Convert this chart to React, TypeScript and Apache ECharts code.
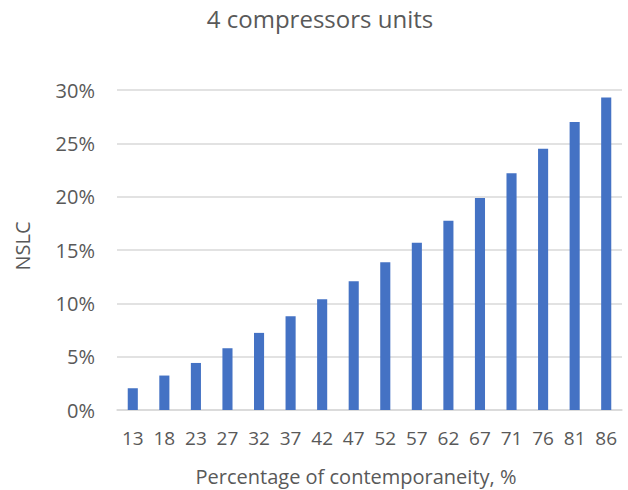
import React, { useEffect, useRef } from "react";
import * as echarts from "echarts";

const categories = ["13", "18", "23", "27", "32", "37", "42", "47", "52", "57", "62", "67", "71", "76", "81", "86"];
const nslcValues = [2.04, 3.23, 4.41, 5.79, 7.23, 8.8, 10.39, 12.06, 13.84, 15.68, 17.75, 19.88, 22.2, 24.5, 26.99, 29.3];
const yTicks = { min: 0, max: 30, interval: 5 };
const titleText = "4 compressors units";
const xName = "Percentage of contemporaneity, %";
const yName = "NSLC";

const FONT = "Open Sans";
const TEXT = "#595959";

export default function App() {
  const ref = useRef<HTMLDivElement>(null);
  useEffect(() => {
    if (!ref.current) return;
    const chart = echarts.init(ref.current, undefined, { renderer: "svg" });
    chart.setOption({
      animation: false,
      backgroundColor: "#ffffff",
      textStyle: { fontFamily: FONT },
      grid: { left: 117, right: 6, top: 90, bottom: 80, containLabel: false },
      graphic: [
        {
          type: "text",
          x: 320,
          y: 18,
          style: { text: titleText, x: 0, y: 0, textAlign: "center", textVerticalAlign: "middle", fill: TEXT, font: `24px '${FONT}'` },
        },
        {
          type: "text",
          x: 356,
          y: 476,
          style: { text: xName, x: 0, y: 0, textAlign: "center", textVerticalAlign: "middle", fill: TEXT, font: `20px '${FONT}'` },
        },
        {
          type: "text",
          x: 22,
          y: 246,
          rotation: Math.PI / 2,
          style: { text: yName, x: 0, y: 0, textAlign: "center", textVerticalAlign: "middle", fill: TEXT, font: `20px '${FONT}'` },
        },
      ],
      xAxis: {
        type: "category",
        data: categories,
        axisLine: { show: true, lineStyle: { color: "#d9d9d9", width: 1.5 } },
        axisTick: { show: false },
        axisLabel: { color: TEXT, fontSize: 19, fontFamily: FONT, margin: 18, interval: 0 },
      },
      yAxis: {
        type: "value",
        min: yTicks.min,
        max: yTicks.max,
        interval: yTicks.interval,
        axisLine: { show: false },
        axisTick: { show: false },
        splitLine: { lineStyle: { color: "#d9d9d9", width: 1.5 } },
        axisLabel: { color: TEXT, fontSize: 20, fontFamily: FONT, margin: 22, formatter: (v: number) => `${v}%` },
      },
      series: [
        {
          type: "bar",
          data: nslcValues,
          barWidth: "32%",
          itemStyle: { color: "#4472c4" },
        },
      ],
    });
    return () => chart.dispose();
  }, []);
  return <div ref={ref} style={{ position: "fixed", left: 0, top: 0, width: 628, height: 490 }} />;
}
